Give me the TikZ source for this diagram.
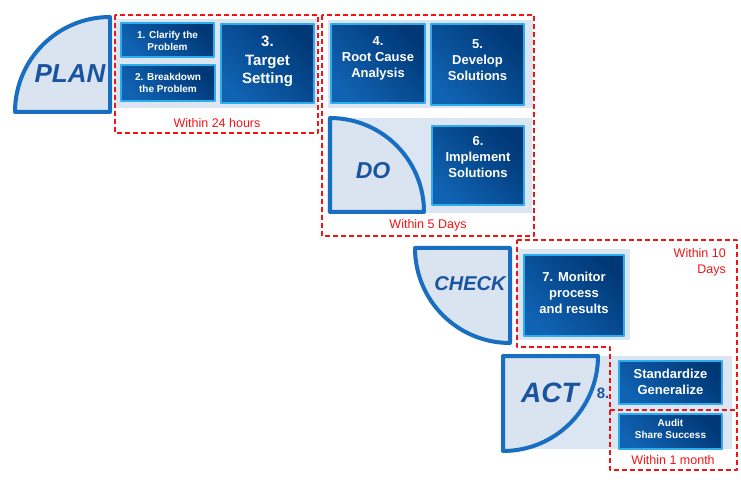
\documentclass[tikz,border=0pt]{standalone}
\usepackage{fontspec}
\setmainfont{Liberation Sans}
\newcommand\fsz[2]{\fontsize{#1}{#2}\selectfont}
\definecolor{panelc}{RGB}{220,230,242}
\definecolor{quartfill}{RGB}{218,228,241}
\definecolor{quartline}{RGB}{24,110,192}
\definecolor{qtextc}{RGB}{26,84,160}
\definecolor{cyanb}{RGB}{45,172,238}
\definecolor{boxD}{RGB}{0,56,118}
\definecolor{boxL}{RGB}{16,98,178}
\definecolor{redc}{RGB}{240,20,20}
\begin{document}
\begin{tikzpicture}[x=1pt,y=-1pt,line join=round,
  panel/.style={fill=panelc,draw=none},
  quart/.style={fill=quartfill,draw=quartline,line width=4pt},
  bx/.style={draw=cyanb,line width=2.8pt,top color=boxD,bottom color=boxL,shading angle=-45,inner sep=0pt},
  bxt/.style={text=white,align=center,inner sep=0pt},
  redbox/.style={draw=redc,line width=1.6pt,dash pattern=on 5pt off 3pt},
  redt/.style={text=redc,inner sep=0pt,font=\fsz{12.5}{16}},
  qtext/.style={text=qtextc,inner sep=0pt}]
\useasboundingbox (0,0) rectangle (741,486);
% panels
\fill[panel] (114,19) rectangle (318,108);
\fill[panel] (328,20) rectangle (533,108);
\fill[panel] (327,118) rectangle (532,213);
\fill[panel] (517,249) rectangle (630,340);
\fill[panel] (503,356) rectangle (732,449);
% quarter shapes
\draw[quart] (110,17) -- (110,112) -- (15,112) .. controls (15,59.5) and (57.5,17) .. (110,17) -- cycle;
\draw[quart] (330,118) -- (330,212) -- (424,212) .. controls (424,160) and (382,118) .. (330,118) -- cycle;
\draw[quart] (415,248) -- (510,248) -- (510,343) .. controls (457.5,343) and (415,300.5) .. (415,248) -- cycle;
\draw[quart] (503,451) -- (503,356) -- (598,356) .. controls (598,408.5) and (555.5,451) .. (503,451) -- cycle;
\node[qtext,font=\fsz{26}{30}\bfseries\itshape] (plan) at (70,74) {PLAN};
\node[qtext,font=\fsz{23}{28}\bfseries\itshape] (do) at (373,171) {DO};
\node[qtext,font=\fsz{20}{24}\bfseries\itshape] (check) at (470,284) {CHECK};
\node[qtext,font=\fsz{28}{32}\bfseries\itshape] (act) at (550,393) {ACT};
\node[qtext,font=\fsz{15}{18}\bfseries] (eight) at (603,393) {8.};
% boxes
\node[bx,minimum width=93pt,minimum height=34pt] (b1) at (167.5,40) {};
\node[bx,minimum width=94pt,minimum height=36pt] (b2) at (168,83) {};
\node[bx,minimum width=93pt,minimum height=79pt] (b3) at (267.5,63.5) {};
\node[bx,minimum width=94pt,minimum height=79pt] (b4) at (378,63.5) {};
\node[bx,minimum width=93pt,minimum height=81pt] (b5) at (477.5,64.5) {};
\node[bx,minimum width=92pt,minimum height=79pt] (b6) at (478,165.5) {};
\node[bx,minimum width=100pt,minimum height=81pt] (b7) at (574,295.5) {};
\node[bx,minimum width=103pt,minimum height=43pt] (b8) at (670.5,382.5) {};
\node[bx,minimum width=103pt,minimum height=35pt] (b9) at (670.5,431.5) {};
% box texts
\node[bxt,font=\fsz{10}{12.5}\bfseries] (t1) at ([yshift=-1pt]b1.center) {1. Clarify the\\Problem};
\node[bxt,font=\fsz{10}{12.5}\bfseries] (t2) at (b2.center) {2. Breakdown\\the Problem};
\node[bxt,font=\fsz{15}{18.5}\bfseries] (t3) at ([yshift=2pt]b3.center) {3.\\Target\\Setting};
\node[bxt,font=\fsz{13}{16}\bfseries] (t4) at ([yshift=5pt]b4.center) {4.\\Root Cause\\Analysis};
\node[bxt,font=\fsz{13}{16}\bfseries] (t5) at ([yshift=4.5pt]b5.center) {5.\\Develop\\Solutions};
\node[bxt,font=\fsz{13}{16}\bfseries] (t6) at ([yshift=8pt]b6.center) {6.\\Implement\\Solutions};
\node[bxt,font=\fsz{13}{16}\bfseries] (t7) at ([yshift=2.5pt]b7.center) {7. Monitor\\process\\and results};
\node[bxt,font=\fsz{13}{16}\bfseries] (t8) at ([yshift=1pt]b8.center) {Standardize\\Generalize};
\node[bxt,font=\fsz{10}{12}\bfseries] (t9) at ([yshift=3pt]b9.center) {Audit\\Share Success};
% red dashed frames
\draw[redbox] (115,15) rectangle (318,133);
\draw[redbox] (322,15) rectangle (534,236);
\draw[redbox] (517,240) -- (737,240) -- (737,410) -- (610,410) -- (610,347) -- (517,347) -- cycle;
\draw[redbox] (610,410) -- (610,470) -- (737,470) -- (737,410);
\node[redt] (w1) at (217,123) {Within 24 hours};
\node[redt] (w2) at (428,225) {Within 5 Days};
\node[redt,align=right,anchor=north east] (w3) at (726,248) {Within 10\\Days};
\node[redt] (w4) at (673,460) {Within 1 month};
\end{tikzpicture}
\end{document}
